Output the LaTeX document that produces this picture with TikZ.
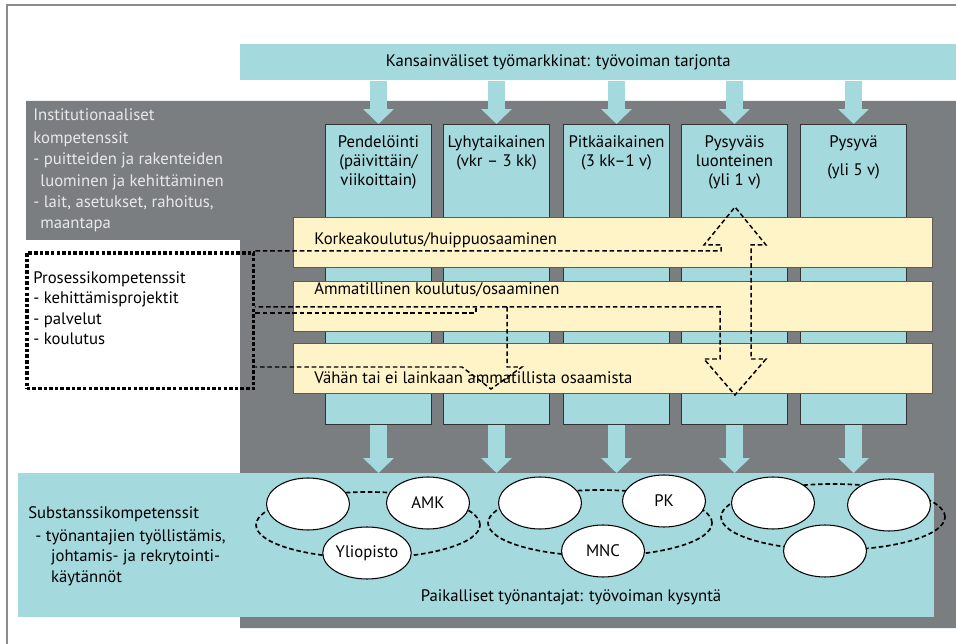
\documentclass[tikz,border=0pt]{standalone}
\usepackage{fontspec}
\setmainfont{PT Sans}
\usepackage{tikz}
\usetikzlibrary{arrows.meta}
\usetikzlibrary{positioning}
\usetikzlibrary{shapes.geometric}
\definecolor{mktcyan}{RGB}{164,217,221}
\definecolor{instgray}{RGB}{122,126,128}
\definecolor{eduyellow}{RGB}{255,243,200}
\definecolor{barline}{RGB}{95,90,75}
\definecolor{paletext}{RGB}{232,232,232}
\tikzset{
    band/.style = {fill=mktcyan,inner sep=0,anchor=north west},
    colbox/.style = {draw=black!80,line width=0.6pt,fill=mktcyan,inner sep=0,anchor=north west,
        minimum width=2.12cm,minimum height=6cm},
    coltext/.style = {align=center,inner sep=0,anchor=north},
    edubar/.style = {draw=barline,line width=0.6pt,fill=eduyellow,inner sep=0,anchor=north west,
        minimum width=12.78cm,minimum height=1cm},
    flow/.style = {draw=mktcyan,line width=9.6pt,-{Triangle[length=8.5pt,width=17pt]}},
    link/.style = {dash pattern=on 2.6pt off 1.6pt,line width=0.85pt},
    procline/.style = {dash pattern=on 2pt off 1.2pt,line width=2pt},
    employer/.style = {shape=ellipse,draw,line width=0.6pt,fill=white,inner sep=0,
        minimum width=1.66cm,minimum height=1.04cm},
    network/.style = {shape=ellipse,draw,dash pattern=on 2.6pt off 1.6pt,line width=0.95pt,
        minimum width=4.48cm,minimum height=1.32cm},
    plain/.style = {align=left,inner sep=0,anchor=north west,font=\fontsize{9.5}{11.7}\selectfont}
}
\begin{document}
\begin{tikzpicture}[x=0.02cm,y=-0.02cm,font=\fontsize{9.5}{11}\selectfont]
        \useasboundingbox (0,0) rectangle (956,644);
        % Frame
        \draw[black!45,line width=0.6pt] (7,644) -- (7,5) -- (956,5);
        % Institutional background
        \fill[instgray] (26,101) -- (956,101) -- (956,628) -- (240,628)
            -- (240,240) -- (26,240) -- cycle;
        % Supply and demand
        \node[band,minimum width=14.32cm,minimum height=0.72cm] (supply) at (240,44) {};
        \node[inner sep=0] at ([xshift=-0.8cm]supply.center)
            {Kansainväliset työmarkkinat: työvoiman tarjonta};
        % Employment types
        \foreach \i/\x in {1/325,2/443,3/563,4/681,5/800}
            \node[colbox] (c\i) at (\x,124) {};
        \foreach \i/\txt in {1/{Pendelöinti\\(päivittäin/\\viikoittain)},
                2/{Lyhytaikainen\\(vkr – 3 kk)},
                3/{Pitkäaikainen\\(3 kk–1 v)},
                4/{Pysyväis\\luonteinen\\(yli 1 v)},
                5/{Pysyvä\\[5pt](yli 5 v)}}
            \node[coltext] at ([yshift=-0.22cm]c\i.north) {\txt};
        % Skill levels
        \node[edubar] (high) at (293,217) {};
        \node[edubar] (voc) at (293,281) {};
        \node[edubar] (low) at (293,343) {};
        \node[anchor=west,inner sep=0] at (314,240) {Korkeakoulutus/huippuosaaminen};
        \node[anchor=west,inner sep=0] at (314,290) {Ammatillinen koulutus/osaaminen};
        \node[anchor=west,inner sep=0] at (314,378) {Vähän tai ei lainkaan ammatillista osaamista};
        \node[band,minimum width=18.32cm,minimum height=2.88cm] (demand) at (18,473) {};
        % Flows
        \foreach \i in {1,...,5} {
            \draw[flow] (c\i.north |- supply.south) -- (c\i.north);
            \draw[flow] (c\i.south) -- (c\i.south |- demand.north);
        }
        % Process competences
        \node[procline,draw,inner sep=0,anchor=north west,
            minimum width=4.54cm,minimum height=2.72cm] (proc) at (25,251) {};
        \node[plain] at (33,271) {Prosessikompetenssit\\- kehittämisprojektit\\- palvelut\\- koulutus};
        \node[plain,text=paletext,font=\fontsize{9.5}{12}\selectfont] at (33,108)
            {Institutionaaliset\\[1.5pt]kompetenssit\\- puitteiden ja rakenteiden\\
            \hspace*{4pt}luominen ja kehittäminen\\- lait, asetukset, rahoitus,\\
            \hspace*{4pt}maantapa};
        % Links
        \draw[link] (proc.north east) -| (721,245) -- (704,245) -- (735,207)
            -- (766,245) -- (751,245) -- (751,359) -- (766,359) -- (735,395)
            -- (704,359) -- (720,359) |- (proc.east |- 0,307);
        \draw[link] (proc.east |- 0,313) -| (476,307);
        \draw[link] (507,307) -- (507,367) -- (522,367) -- (491,389) -- (462,367)
            -- (proc.east |- 0,367);
        % Employers
        \node[network] (net1) at (368,525) {};
        \node[network] (net2) at (600,523) {};
        \node[network] (net3) at (833,517) {};
        \node[employer] (e11) at (308,504) {};
        \node[employer] (amk) at (428,503) {AMK};
        \node[employer] (uni) at (367,553) {Yliopisto};
        \node[employer] (e21) at (540,503) {};
        \node[employer] (pk) at (664,501) {PK};
        \node[employer] (mnc) at (603,551) {MNC};
        \node[employer] (e31) at (773,503) {};
        \node[employer] (e32) at (889,505) {};
        \node[employer] (e33) at (825,551) {};
        \node[plain] at (28,506) {Substanssikompetenssit\\[1.5pt]
            \hspace*{4pt}- työnantajien työllistämis,\\
            \hspace*{13pt}johtamis- ja rekrytointi-\\
            \hspace*{13pt}käytännöt};
        \node[inner sep=0] at (571,597) {Paikalliset työnantajat: työvoiman kysyntä};
    \end{tikzpicture}
\end{document}
